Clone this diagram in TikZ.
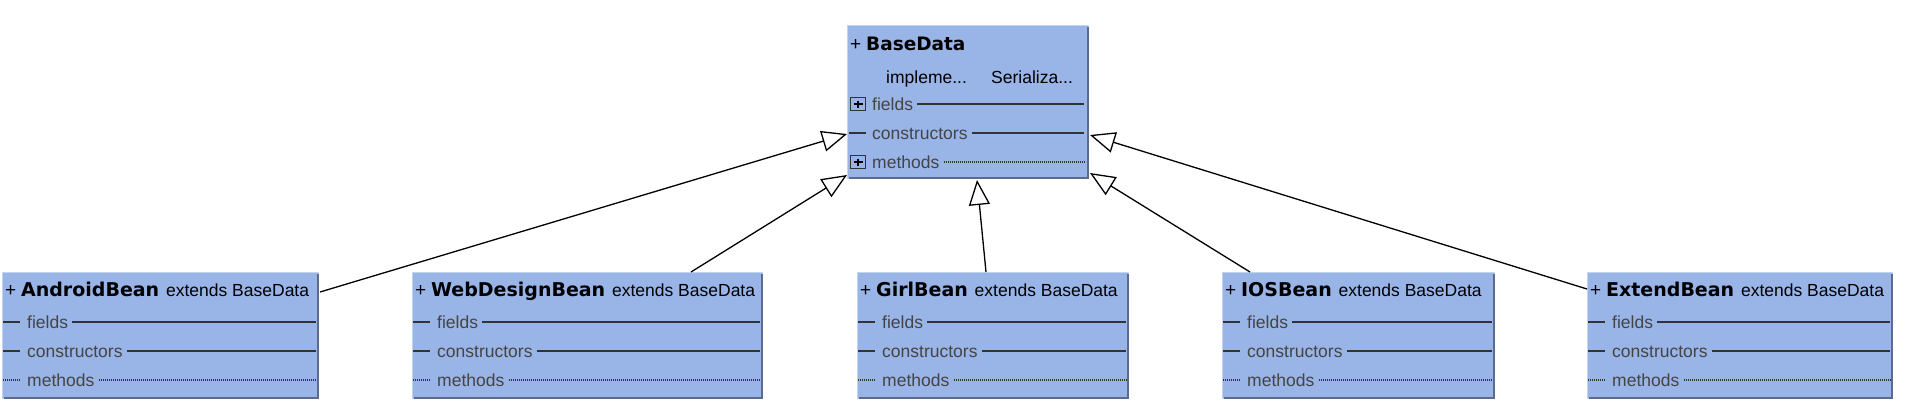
\documentclass[tikz,border=0pt]{standalone}
\usepackage{fontspec}
\setmainfont{Liberation Sans}
\newfontfamily\namefont{DejaVu Sans}
\usepackage{xcolor}
\definecolor{umlFill}{HTML}{99B4E6}
\definecolor{umlLight}{HTML}{C4D3F0}
\definecolor{umlDark}{HTML}{5C6A91}
\definecolor{umlRule}{HTML}{333333}
\definecolor{umlGray}{HTML}{444444}
\usepackage{tikz}
\usetikzlibrary{arrows.meta,positioning,calc}
\tikzset{
    classbox/.style={
        rectangle,
        fill=umlFill,
        draw=umlLight,
        line width=1pt,
        anchor=north west,
        inner sep=0pt
    },
    boxshade/.style={
        draw=umlDark,
        line width=2pt
    },
    titletext/.style={
        anchor=base west,
        inner sep=0pt,
        font=\fontsize{17.5}{17.5}\selectfont,
        text=black
    },
    rowtext/.style={
        anchor=base west,
        inner sep=0pt,
        font=\fontsize{17.5}{17.5}\selectfont,
        text=umlGray
    },
    solidrule/.style={
        draw=umlRule,
        line width=1.4pt
    },
    dotrule/.style={
        draw=umlRule,
        line width=1.4pt,
        dash pattern=on 1pt off 1pt
    },
    expander/.style={
        rectangle,
        draw=umlRule,
        line width=1.4pt,
        fill=umlFill,
        minimum width=15pt,
        minimum height=13pt,
        inner sep=0pt,
        path picture={
            \draw[black, line width=1.6pt]
                ([xshift=3pt]path picture bounding box.west) -- ([xshift=-3pt]path picture bounding box.east)
                ([yshift=-3pt]path picture bounding box.north) -- ([yshift=3pt]path picture bounding box.south);
        }
    },
    inherit/.style={
        -{Triangle[length=25pt, width=21pt, fill=white]},
        line width=1.3pt,
        black
    }
}

\begin{document}
\begin{tikzpicture}[x=1pt, y=-1pt]
    \useasboundingbox[fill=white] (0,0) rectangle (1918,413);

    % Parent class
    \node[classbox, minimum width=241pt, minimum height=153pt] (base) at (847,25) {};
    \draw[boxshade] ($(base.north east)+(-1,2)$) -- ($(base.south east)+(-1,-1)$) -- ($(base.south west)+(2,-1)$);
    \node[titletext] (base-title) at ($(base.north west)+(3,25)$) {{\fontsize{19}{19}\selectfont+} {\namefont\bfseries\fontsize{18.5}{18.5}\selectfont BaseData}};
    \node[titletext] (base-impl) at ($(base.north west)+(39,58)$) {impleme...};
    \node[titletext] (base-ser) at ($(base.north west)+(144,58)$) {Serializa...};
    \foreach \row/\dy/\sty in {fields/85/solidrule, constructors/114/solidrule, methods/143/dotrule} {
        \node[rowtext] (base-\row) at ($(base.north west)+(25,\dy)$) {\row};
        \draw[\sty] ($(base-\row.base east)+(4,-6)$) -- ($(base.north east)+(-5,\dy-6)$);
    }
    \node[expander] (base-fields-box) at ($(base.north west)+(11,79)$) {};
    \node[expander] (base-methods-box) at ($(base.north west)+(11,137)$) {};
    \draw[solidrule] ($(base.north west)+(2,108)$) -- ++(17,0);

    % Subclasses
    \foreach \name/\x/\w/\title in {android/2/316/AndroidBean, webdesign/412/350/WebDesignBean, girl/857/271/GirlBean, ios/1222/272/IOSBean, extend/1587/305/ExtendBean} {
        \node[classbox, minimum width=\w pt, minimum height=126pt] (\name) at (\x,272) {};
        \draw[boxshade] ($(\name.north east)+(-1,2)$) -- ($(\name.south east)+(-1,-1)$) -- ($(\name.south west)+(2,-1)$);
        \node[titletext] (\name-title) at ($(\name.north west)+(3,24)$) {{\fontsize{19}{19}\selectfont+} {\namefont\bfseries\fontsize{19}{19}\selectfont\title}\ \hspace{2pt}{\fontsize{17.5}{17.5}\selectfont extends BaseData}};
        \foreach \row/\dy/\sty in {fields/56/solidrule, constructors/85/solidrule, methods/114/dotrule} {
            \node[rowtext] (\name-\row) at ($(\name.north west)+(25,\dy)$) {\row};
            \draw[\sty] ($(\name.north west)+(1,\dy-6)$) -- ++(17,0);
            \draw[\sty] ($(\name-\row.base east)+(4,-6)$) -- ($(\name.north east)+(-3,\dy-6)$);
        }
    }

    % Generalisations
    \draw[inherit] ($(android.north east)+(1,20)$) -- ($(base.north west)+(0,109)$);
    \draw[inherit] ($(webdesign.north west)+(279,0)$) -- ($(base.south west)+(0,-4)$);
    \draw[inherit] ($(girl.north)+(-7,0)$) -- ($(base.south)+(9,1)$);
    \draw[inherit] ($(ios.north west)+(28,0)$) -- ($(base.south east)+(1,-6)$);
    \draw[inherit] ($(extend.north west)+(0,17)$) -- ($(base.north east)+(1,110)$);
\end{tikzpicture}
\end{document}
